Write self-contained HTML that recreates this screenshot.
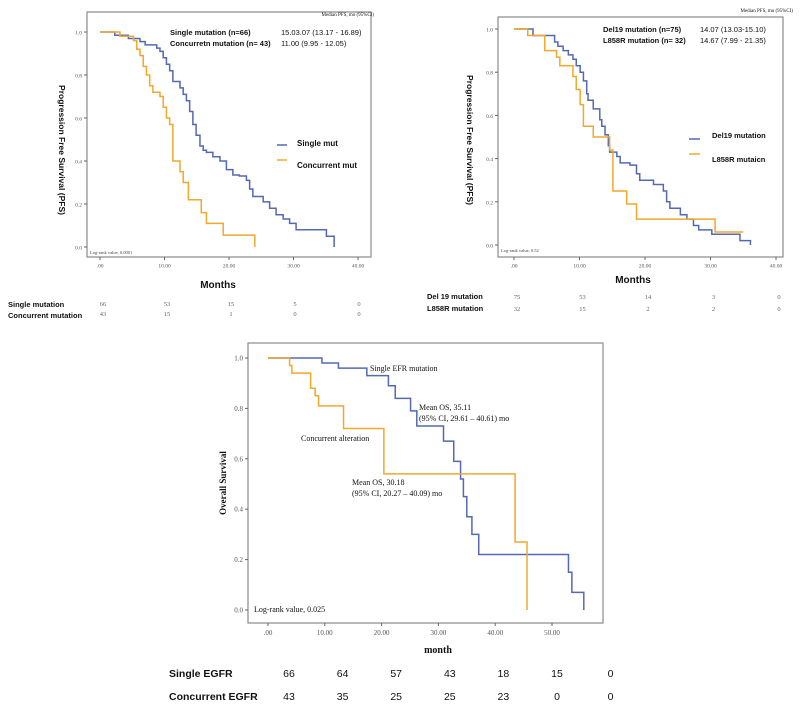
<!DOCTYPE html>
<html><head><meta charset="utf-8"><style>
html,body{margin:0;padding:0;background:#fff;}
svg{display:block;}
.t{font-family:"Liberation Sans",sans-serif;}
.s{font-family:"Liberation Serif",serif;}
</style></head><body>
<svg id="fig" width="800" height="709" viewBox="0 0 800 709" xmlns="http://www.w3.org/2000/svg"></svg>
<script>
// ---- Chart A data (PFS single vs concurrent)
const aSingleT=[0,2.3,4.4,6.2,7.0,8.8,9.3,9.8,10.3,10.8,11.3,12.4,12.9,13.4,13.9,14.4,14.9,15.5,16.0,16.5,17.5,18.6,19.6,20.6,21.6,22.7,23.2,23.7,25.3,26.3,27.3,28.4,29.4,30.4,35.1,36.3];
const aSingleS=[1,0.985,0.97,0.955,0.94,0.925,0.91,0.88,0.85,0.82,0.77,0.74,0.71,0.68,0.63,0.57,0.52,0.47,0.45,0.44,0.42,0.40,0.36,0.335,0.33,0.31,0.27,0.235,0.21,0.18,0.15,0.13,0.11,0.08,0.05,0.0];
const aConcT=[0,3.1,5.2,5.7,6.2,6.7,7.2,7.7,8.2,9.3,9.8,10.3,10.8,11.3,12.4,12.9,13.7,15.7,16.5,19.1,24.0];
const aConcS=[1,0.98,0.96,0.92,0.89,0.84,0.80,0.75,0.72,0.70,0.65,0.60,0.57,0.40,0.35,0.30,0.22,0.16,0.11,0.055,0.0];
const aRiskSingle=["66","53","15","5","0"];
const aRiskConc=["43","15","1","0","0"];
// ---- Chart B data (Del19 vs L858R)
const bDelT=[0,2.9,6.2,6.7,7.5,8.3,9.0,9.5,10.1,10.6,11.1,11.3,12.1,13.1,13.4,13.9,14.4,14.6,15.7,16.2,17.7,18.7,19.2,21.3,22.8,23.3,23.8,25.4,26.4,27.4,28.2,30.2,34.5,36.1];
const bDelS=[1,0.97,0.94,0.92,0.90,0.88,0.86,0.83,0.80,0.76,0.70,0.67,0.63,0.58,0.55,0.51,0.46,0.43,0.41,0.38,0.37,0.33,0.30,0.28,0.25,0.20,0.17,0.14,0.12,0.09,0.07,0.05,0.02,0.0];
const bLT=[0,2.1,4.7,6.5,7.0,9.0,9.5,10.1,10.6,12.1,14.6,15.1,17.2,18.7,30.7,35.0];
const bLS=[1,0.97,0.90,0.87,0.83,0.78,0.72,0.65,0.55,0.50,0.44,0.25,0.19,0.12,0.06,0.06];
const bRiskDel=["75","53","14","3","0"];
const bRiskL=["32","15","2","2","0"];
// ---- Chart C data (OS)
const cSingleT=[0,9.5,12.4,17.4,21.2,22.4,25.1,26.2,30.9,32.7,33.9,34.4,35.0,35.9,37.1,52.9,53.5,55.6];
const cSingleS=[1,0.98,0.96,0.93,0.89,0.84,0.79,0.73,0.67,0.59,0.52,0.45,0.37,0.30,0.22,0.15,0.07,0.0];
const cConcT=[0,3.8,4.2,7.5,8.3,8.9,13.3,20.4,43.5,45.6];
const cConcS=[1,0.97,0.94,0.88,0.85,0.81,0.72,0.54,0.27,0.0];
const cRiskSingle=["66","64","57","43","18","15","0"];
const cRiskConc=["43","35","25","25","23","0","0"];
const pfsTicks=[".00","10.00","20.00","30.00","40.00"];
const osTicks=[".00","10.00","20.00","30.00","40.00","50.00"];
const yTicks=["0.0","0.2","0.4","0.6","0.8","1.0"];

const NS="http://www.w3.org/2000/svg";
const fig=document.getElementById('fig');
function el(tag,attrs,parent,txt){const e=document.createElementNS(NS,tag);for(const k in attrs)e.setAttribute(k,attrs[k]);if(txt!==undefined)e.textContent=txt;(parent||fig).appendChild(e);return e;}
const BLUE="#5468b4",ORANGE="#f1a82c";

function drawPlot(cfg){
  const g=el('g',{});
  
  
  const xs=m=>cfg.x0+m*cfg.pxm, ys=v=>cfg.y0-v*(cfg.y0-cfg.y1);
  const fr=el('rect',{x:cfg.fl,y:cfg.ft,width:cfg.fr-cfg.fl,height:cfg.fb-cfg.ft,fill:'none',stroke:'#8a8a8a','stroke-width':1.2},g);
  
  
  yTicks.forEach((t,i)=>{const y=ys(i*0.2);
    el('line',{x1:cfg.fl-3,x2:cfg.fl,y1:y,y2:y,stroke:'#666'},g);
    const tx=el('text',{x:cfg.fl-5,y:y+2.5,'text-anchor':'end','font-size':cfg.tf,fill:'#555',class:'s'},g,t);
    
    });
  cfg.xt.forEach((t,i)=>{const x=xs(i*10);
    el('line',{x1:x,x2:x,y1:cfg.fb,y2:cfg.fb+3,stroke:'#666'},g);
    const tx=el('text',{x:x,y:cfg.fb+cfg.tf+5,'text-anchor':'middle','font-size':cfg.tf,fill:'#555',class:'s'},g,t);
    
    });
  cfg.series.forEach(s=>{
    let d=`M${xs(s.t[0])},${ys(s.s[0])}`;
    for(let i=1;i<s.t.length;i++){d+=` H${xs(s.t[i])} V${ys(s.s[i])}`;}
    if(s.end!==undefined)d+=` H${xs(s.end)}`;
    const p=el('path',{d:d,fill:'none',stroke:s.c,'stroke-width':1.5},g);
    
    
  });
  return g;
}
function txt(x,y,s,size,opts){const t=el('text',Object.assign({x:x,y:y,'font-size':size,fill:'#111'},opts||{}),fig,s);return t;}

// Chart A
drawPlot({name:'pfs-chart-mutation-count',fl:87,ft:12,fr:371,fb:257,x0:100,pxm:6.45,y0:247,y1:32,tf:5.5,xt:pfsTicks,
 series:[{t:aSingleT,s:aSingleS,c:BLUE,name:'single-mutation-curve'},{t:aConcT,s:aConcS,c:ORANGE,name:'concurrent-mutation-curve'}]});
// Chart B
drawPlot({name:'pfs-chart-mutation-type',fl:498,ft:17,fr:783,fb:257,x0:514,pxm:6.55,y0:245,y1:29,tf:5.5,xt:pfsTicks,
 series:[{t:bDelT,s:bDelS,c:BLUE,name:'del19-curve'},{t:bLT,s:bLS,c:ORANGE,name:'l858r-curve',end:35.0}]});
// Chart C
drawPlot({name:'os-chart',fl:248,ft:343,fr:603,fb:623,x0:268,pxm:5.68,y0:610,y1:358,tf:7,xt:osTicks,
 series:[{t:cSingleT,s:cSingleS,c:BLUE,name:'single-egfr-curve'},{t:cConcT,s:cConcS,c:ORANGE,name:'concurrent-alteration-curve'}]});

let t;
// Chart A texts
t=txt(374,16,"Median PFS, mo (95%CI)",5,{class:'s','text-anchor':'end'});
t=txt(170,35,"Single mutation (n=66)",7.5,{class:'t','font-weight':'bold'});
t=txt(281,35,"15.03.07 (13.17 - 16.89)",7.5,{class:'t'});
t=txt(170,46,"Concurretn mutation (n= 43)",7.5,{class:'t','font-weight':'bold'});
t=txt(281,46,"11.00 (9.95 - 12.05)",7.5,{class:'t'});
el('line',{x1:277,x2:287,y1:145,y2:145,stroke:BLUE,'stroke-width':1.5});
t=txt(297,146,"Single mut",8,{class:'t','font-weight':'bold'});
el('line',{x1:277,x2:287,y1:160,y2:160,stroke:ORANGE,'stroke-width':1.5});
t=txt(297,168,"Concurrent  mut",8,{class:'t','font-weight':'bold'});
t=txt(90,254,"Log-rank value, 0.0001",4.5,{class:'s',fill:'#444'});
t=txt(218,288,"Months",10,{class:'t','font-weight':'bold','text-anchor':'middle'});
t=txt(59,150,"Progression Free Survival (PFS)",8.5,{class:'t','font-weight':'bold','text-anchor':'middle',transform:'rotate(90 59 150)'});
t=txt(8,307,"Single mutation",7.5,{class:'t','font-weight':'bold'});
t=txt(8,318,"Concurrent mutation",7.5,{class:'t','font-weight':'bold'});
aRiskSingle.forEach((v,i)=>{const e=txt(103+i*64,306,v,6.5,{class:'s','text-anchor':'middle',fill:'#666'});});
aRiskConc.forEach((v,i)=>{const e=txt(103+i*64,316,v,6.5,{class:'s','text-anchor':'middle',fill:'#666'});});

// Chart B texts
t=txt(793,12,"Median PFS, mo (95%CI)",5,{class:'s','text-anchor':'end'});
t=txt(603,32,"Del19 mutation (n=75)",7.5,{class:'t','font-weight':'bold'});
t=txt(700,32,"14.07 (13.03-15.10)",7.5,{class:'t'});
t=txt(603,43,"L858R mutation (n= 32)",7.5,{class:'t','font-weight':'bold'});
t=txt(700,43,"14.67 (7.99 - 21.35)",7.5,{class:'t'});
el('line',{x1:689,x2:700,y1:139,y2:139,stroke:BLUE,'stroke-width':1.5});
t=txt(712,138,"Del19 mutation",7.5,{class:'t','font-weight':'bold'});
el('line',{x1:689,x2:700,y1:154,y2:154,stroke:ORANGE,'stroke-width':1.5});
t=txt(712,162,"L858R mutaicn",7.5,{class:'t','font-weight':'bold'});
t=txt(501,252,"Log-rank value, 0.52",4.5,{class:'s',fill:'#444'});
t=txt(633,283,"Months",10,{class:'t','font-weight':'bold','text-anchor':'middle'});
t=txt(467,140,"Progression Free Survival (PFS)",8.5,{class:'t','font-weight':'bold','text-anchor':'middle',transform:'rotate(90 467 140)'});
t=txt(427,299,"Del 19 mutation",7.5,{class:'t','font-weight':'bold'});
t=txt(427,311,"L858R mutation",7.5,{class:'t','font-weight':'bold'});
bRiskDel.forEach((v,i)=>{const e=txt(517+i*65.5,299,v,6.5,{class:'s','text-anchor':'middle',fill:'#666'});});
bRiskL.forEach((v,i)=>{const e=txt(517+i*65.5,311,v,6.5,{class:'s','text-anchor':'middle',fill:'#666'});});

// Chart C texts
const ann=[["Single EFR mutation",370,371],["Mean OS, 35.11",419,410],["(95% CI, 29.61 \u2013 40.61) mo",419,421],["Concurrent alteration",301,441],["Mean OS, 30.18",352,485],["(95% CI, 20.27 \u2013 40.09) mo",352,496],["Log-rank value, 0.025",254,612]];
ann.forEach(a=>{const e=txt(a[1],a[2],a[0],8,{class:'s'});});
t=txt(438,653,"month",10,{class:'s','font-weight':'bold','text-anchor':'middle'});
t=txt(226,483,"Overall Survival",9,{class:'s','font-weight':'bold','text-anchor':'middle',transform:'rotate(-90 226 483)'});
t=txt(169,677,"Single EGFR",10.5,{class:'t','font-weight':'bold'});
t=txt(169,700,"Concurrent EGFR",10.5,{class:'t','font-weight':'bold'});
cRiskSingle.forEach((v,i)=>{const e=txt(289+i*53.6,677,v,10.5,{class:'t','text-anchor':'middle'});});
cRiskConc.forEach((v,i)=>{const e=txt(289+i*53.6,700,v,10.5,{class:'t','text-anchor':'middle'});});
</script>
</body></html>
